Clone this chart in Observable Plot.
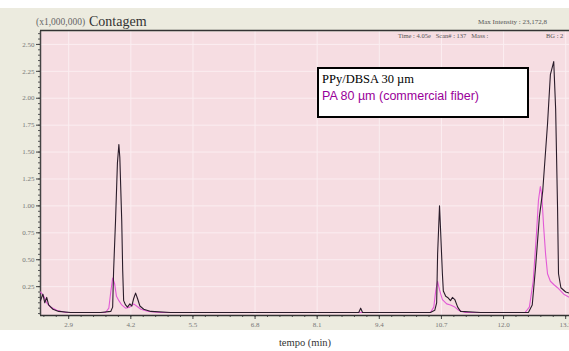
<!DOCTYPE html>
<html><head><meta charset="utf-8">
<script src="https://cdn.jsdelivr.net/npm/d3@7"></script>
<script src="https://cdn.jsdelivr.net/npm/@observablehq/plot@0.6"></script>
<style>body{margin:0;background:#fff}#c{position:relative;width:569px;height:351px}</style>
</head><body><div id="c"></div>
<script>
// PPy/DBSA 30 µm (black)
const ppyTime = [2.31,2.36,2.40,2.44,2.48,2.57,2.69,2.94,3.57,3.78,3.82,3.84,3.88,3.92,3.95,3.97,4.01,4.03,4.05,4.09,4.13,4.18,4.22,4.26,4.30,4.34,4.39,4.47,4.62,5.03,7.75,8.97,9.01,9.05,10.47,10.56,10.60,10.62,10.66,10.68,10.72,10.74,10.79,10.83,10.89,10.93,10.98,11.04,11.10,11.52,12.52,12.60,12.67,12.75,12.82,12.92,12.98,13.05,13.09,13.13,13.15,13.20,13.30,13.38];
const ppyValue = [0.12,0.18,0.10,0.15,0.08,0.04,0.02,0.01,0.01,0.02,0.06,0.40,0.86,1.40,1.57,1.45,0.86,0.40,0.12,0.08,0.06,0.09,0.07,0.14,0.19,0.14,0.07,0.04,0.02,0.01,0.01,0.01,0.05,0.01,0.01,0.03,0.10,0.55,1.00,0.80,0.37,0.21,0.16,0.15,0.12,0.15,0.13,0.06,0.02,0.01,0.01,0.08,0.43,0.90,1.14,1.76,2.22,2.34,1.90,0.98,0.37,0.24,0.20,0.19];
// PA 80 µm (magenta)
const paTime = [2.31,2.38,2.44,2.52,2.65,2.84,3.67,3.74,3.78,3.82,3.86,3.90,3.95,4.01,4.09,4.18,4.26,4.32,4.41,4.57,4.82,10.47,10.54,10.58,10.62,10.66,10.72,10.81,10.89,10.98,11.06,11.20,12.45,12.54,12.62,12.69,12.73,12.77,12.80,12.84,12.88,12.92,12.98,13.05,13.13,13.26,13.38];
const paValue = [0.20,0.16,0.10,0.06,0.03,0.01,0.01,0.05,0.20,0.33,0.28,0.16,0.12,0.08,0.05,0.06,0.09,0.07,0.04,0.02,0.01,0.01,0.06,0.21,0.30,0.22,0.13,0.09,0.08,0.06,0.03,0.01,0.01,0.06,0.30,0.75,1.05,1.18,1.10,0.80,0.55,0.37,0.30,0.27,0.24,0.18,0.15];
const xTicks = [2.9,4.2,5.5,6.8,8.1,9.4,10.7,12.0,13.3];
const xTickLabels = ["2.9","4.2","5.5","6.8","8.1","9.4","10.7","12.0","13.3"];
const yTicks = [0.25,0.50,0.75,1.00,1.25,1.50,1.75,2.00,2.25,2.50];
const seriesNames = ["PPy/DBSA 30 µm","PA 80 µm (commercial fiber)"];

const ppy = ppyTime.map((t,i)=>({t, v:ppyValue[i]}));
const pa = paTime.map((t,i)=>({t, v:paValue[i]}));
const yMinor = d3.range(0, 2.61, 0.05);
const xMinor = d3.range(2.38, 13.4, 0.26);

const chart = Plot.plot({
  width: 569, height: 351,
  marginTop: 31, marginLeft: 40, marginRight: 0, marginBottom: 36,
  style: {fontFamily: "Liberation Serif", background: "transparent"},
  x: {domain: [2.31, 13.38]},
  y: {domain: [-0.018, 2.62]},
  marks: [
    Plot.frame({fill: "#f6dde2", stroke: "none"}),
    Plot.gridY(yTicks, {stroke: "#fbeef1", strokeOpacity: 1, strokeWidth: 1}),
    Plot.gridX(xTicks, {stroke: "#fbeef1", strokeOpacity: 1, strokeWidth: 1}),
    Plot.axisY(yMinor, {tickSize: 2, text: null, stroke: "#555", label: null}),
    Plot.axisY(yTicks, {tickSize: 4, tickFormat: d3.format(".2f"), fontSize: 7, fill: "#777", stroke: "#444", tickPadding: 2, label: null}),
    Plot.axisX(xMinor, {tickSize: 2, text: null, stroke: "#555", label: null}),
    Plot.axisX(xTicks, {tickSize: 4, tickFormat: (d,i)=>xTickLabels[i], fontSize: 7, fill: "#777", stroke: "#444", tickPadding: 3,
      label: "tempo (min)", labelAnchor: "center", labelArrow: "none", labelOffset: 30}),
    Plot.ruleX([2.31], {stroke: "#444", strokeWidth: 1.5}),
    Plot.ruleY([-0.018], {stroke: "#333", strokeWidth: 1.5}),
    Plot.line(pa, {x: "t", y: "v", stroke: "#e25ad6", strokeWidth: 1.1}),
    Plot.line(ppy, {x: "t", y: "v", stroke: "#2a1c2a", strokeWidth: 1.1})
  ]
});
const svg = d3.select(chart);
svg.insert("rect", ":first-child").attr("x",0).attr("y",8).attr("width",569).attr("height",322).attr("fill","#ecebdf");
const ann = svg.append("g").attr("text-anchor","start");
ann.append("line").attr("x1",40).attr("x2",569).attr("y1",30.5).attr("y2",30.5).attr("stroke","#333").attr("stroke-width",1.5);
ann.append("text").attr("x",36).attr("y",25).attr("font-size",9.5).attr("fill","#666").text("(x1,000,000)");
ann.append("text").attr("x",89).attr("y",26).attr("font-size",14).attr("fill","#333").text("Contagem");
ann.append("text").attr("x",478).attr("y",24).attr("font-size",7).attr("fill","#555").text("Max Intensity : 23,172,8");
ann.append("text").attr("x",398).attr("y",38).attr("font-size",6.5).attr("fill","#555").text("Time : 4.05e   Scan# : 137   Mass :");
ann.append("text").attr("x",546).attr("y",38).attr("font-size",6.5).attr("fill","#555").text("BG : 2");
svg.selectAll("g[aria-label='x-axis label']").attr("font-size",10.5).attr("fill","#333");
const lg = svg.append("g").attr("text-anchor","start");
lg.append("rect").attr("x",318).attr("y",68).attr("width",210).attr("height",49).attr("fill","#fff").attr("stroke","#000").attr("stroke-width",2);
lg.append("text").attr("x",322).attr("y",83).attr("font-family","Liberation Serif").attr("font-size",12.5).attr("fill","#000").text(seriesNames[0]);
lg.append("text").attr("x",322).attr("y",100).attr("font-family","Liberation Sans").attr("font-size",12.5).attr("fill","#990099").text(seriesNames[1]);
document.getElementById("c").appendChild(chart);
</script></body></html>
